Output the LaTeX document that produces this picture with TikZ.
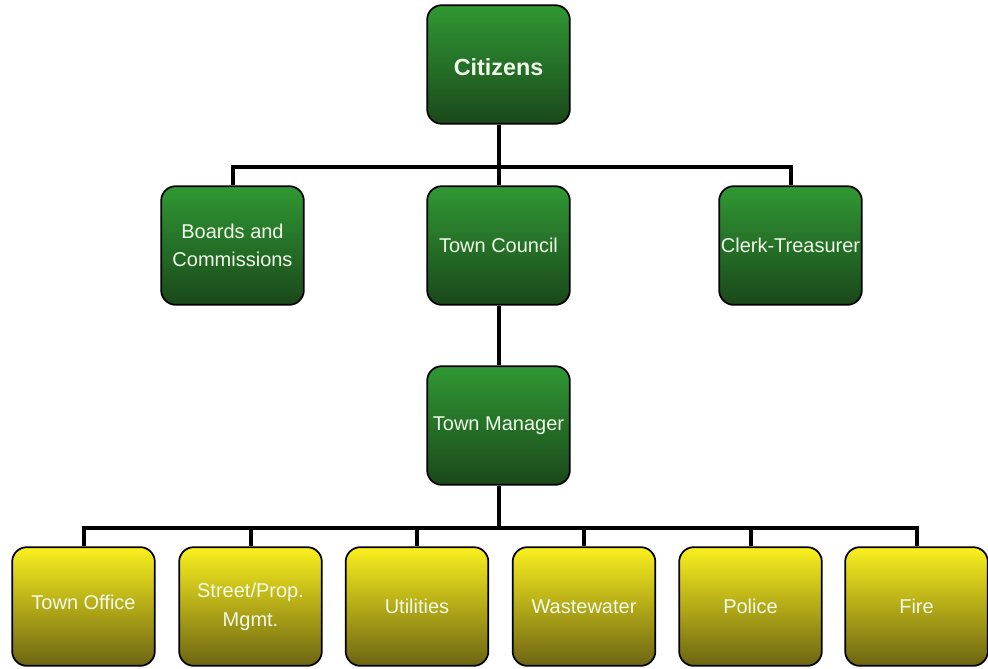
\documentclass[tikz,border=0pt]{standalone}
\usepackage{fontspec}
\setmainfont{Liberation Sans}
\definecolor{gtop}{RGB}{48,152,52}
\definecolor{gbot}{RGB}{26,72,26}
\definecolor{ytop}{RGB}{250,240,30}
\definecolor{ybot}{RGB}{108,100,18}
\definecolor{txt}{RGB}{240,250,235}
\begin{document}
\begin{tikzpicture}[x=0.75pt,y=-0.75pt,
  box/.style={draw=black, line width=1.3pt, rounded corners=11pt,
    minimum width=107pt, minimum height=89pt, inner sep=1pt,
    align=center, text=txt, font=\fontsize{15}{21.5}\selectfont},
  gbox/.style={box, top color=gtop, bottom color=gbot},
  ybox/.style={box, top color=ytop, bottom color=ybot},
  conn/.style={line width=3pt, line join=miter}]
\useasboundingbox (0,0) rectangle (988,668);
\node[gbox, font=\fontsize{17.5}{21}\selectfont\bfseries, text height=17pt, text depth=0pt] (cit) at (498.5,64.5) {Citizens};
\node[gbox] (boards) at (232.5,245.5) {Boards and\\Commissions};
\node[gbox] (council) at (498.5,245.5) {Town Council};
\node[gbox] (clerk) at (790.5,245.5) {Clerk-Treasurer};
\node[gbox] (mgr) at (498.5,425.5) {Town Manager};
\node[ybox, text height=11pt, text depth=6pt] (office) at (83.5,606.5) {Town Office};
\node[ybox] (street) at (250.5,606.5) {Street/Prop.\\Mgmt.};
\node[ybox] (util) at (417,606.5) {Utilities};
\node[ybox] (waste) at (584,606.5) {Wastewater};
\node[ybox] (police) at (750.5,606.5) {Police};
\node[ybox] (fire) at (916.5,606.5) {Fire};
\coordinate (bus) at (498.5,167);
\coordinate (bus2) at (498.5,528);
\draw[conn] (boards.north) -- (boards.north |- bus) -- (clerk.north |- bus) -- (clerk.north);
\draw[conn] (cit.south) -- (council.north);
\draw[conn] (council.south) -- (mgr.north);
\draw[conn] (office.north) -- (office.north |- bus2) -- (fire.north |- bus2) -- (fire.north);
\draw[conn] (mgr.south) -- (bus2);
\draw[conn] (street.north) -- (street.north |- bus2);
\draw[conn] (util.north) -- (util.north |- bus2);
\draw[conn] (waste.north) -- (waste.north |- bus2);
\draw[conn] (police.north) -- (police.north |- bus2);
\end{tikzpicture}
\end{document}
